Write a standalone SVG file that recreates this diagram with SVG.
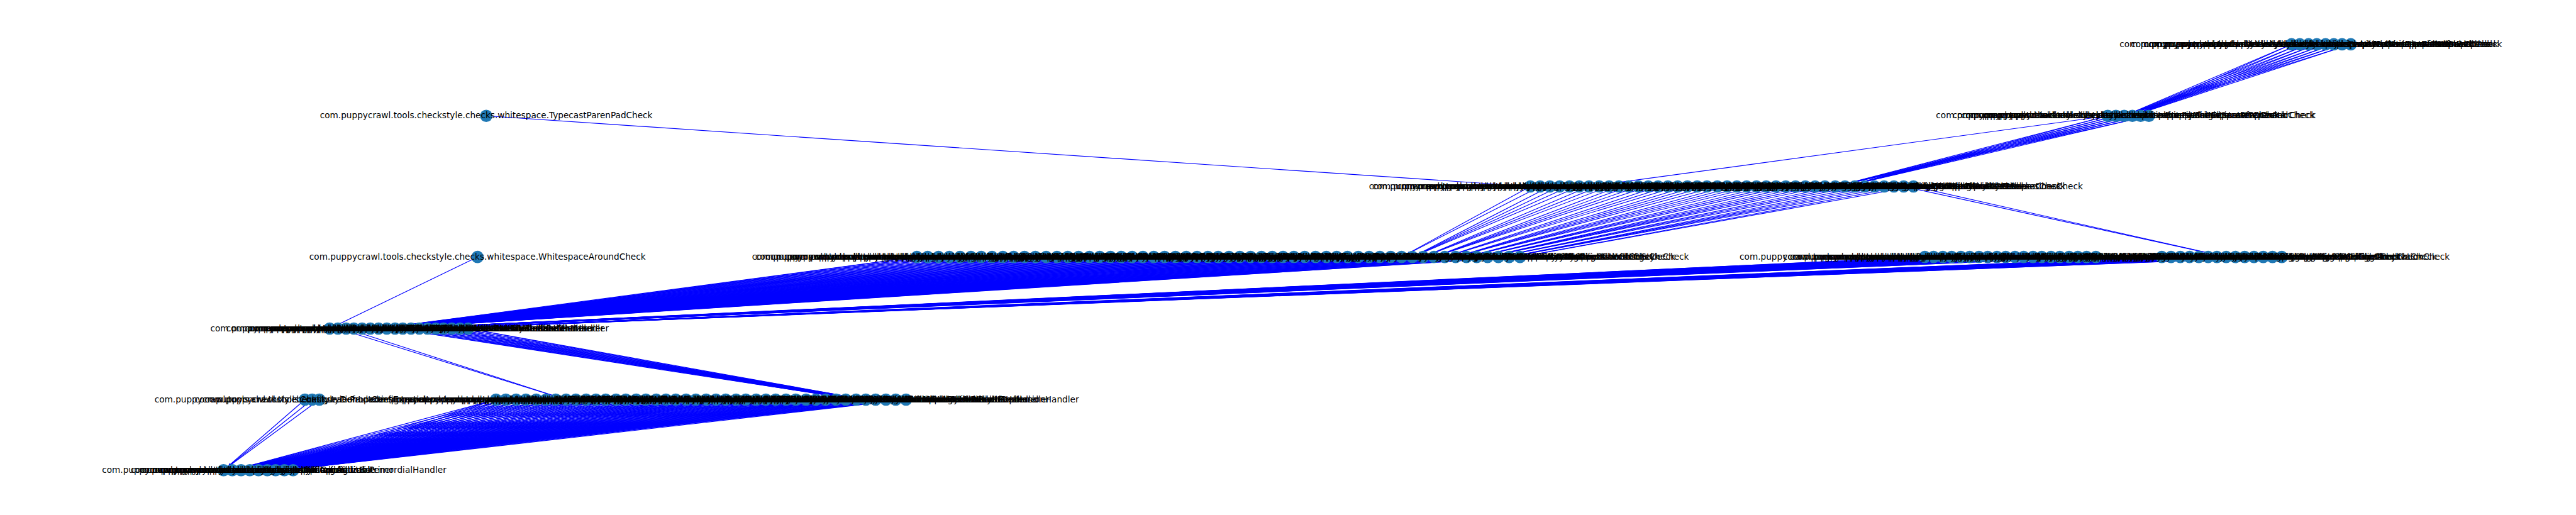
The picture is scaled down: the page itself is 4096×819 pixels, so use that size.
<svg xmlns="http://www.w3.org/2000/svg" width="4096" height="819" viewBox="0 0 4096 819">
<style>
.e path{fill:none;stroke:#0000ff;stroke-width:1.4;marker-end:url(#ah)}
.n circle{fill:#1f78b4}
.l text{font-family:'DejaVu Sans','Liberation Sans',sans-serif;font-size:16.67px;text-anchor:middle;fill:#000}
</style>
<defs>
<marker id="ah" markerUnits="userSpaceOnUse" markerWidth="20" markerHeight="6" refX="17.6" refY="2.8" orient="auto"><path d="M0,0L5.6,2.8L0,5.6z" fill="#0000ff"/></marker>
</defs>
<rect width="4096" height="819" fill="#ffffff"/>
<g transform="scale(0.819)">
<g id="edges" class="e">
<path d="M4449 86L4124 225"/><path d="M4449 86L4140 225"/><path d="M4465 86L4124 225"/><path d="M4465 86L4140 225"/><path d="M4482 86L4124 225"/><path d="M4482 86L4140 225"/><path d="M4498 86L4124 225"/><path d="M4498 86L4140 225"/><path d="M4515 86L4124 225"/><path d="M4515 86L4140 225"/><path d="M4531 86L4124 225"/><path d="M4531 86L4140 225"/><path d="M4547 86L4124 225"/><path d="M4547 86L4140 225"/><path d="M4564 86L4124 225"/><path d="M4564 86L4140 225"/>
<path d="M4092 225L3563 362"/><path d="M4092 225L3582 362"/><path d="M4108 225L3563 362"/><path d="M4108 225L3582 362"/><path d="M4124 225L3563 362"/><path d="M4124 225L3582 362"/><path d="M4140 225L3563 362"/><path d="M4140 225L3582 362"/><path d="M4156 225L3563 362"/><path d="M4156 225L3582 362"/><path d="M4172 225L3563 362"/><path d="M4172 225L3582 362"/>
<path d="M4092 225L3085 362"/><path d="M944 225L2971 362"/>
<path d="M3696 362L4322 499"/><path d="M3715 362L4322 499"/>
<path d="M2971 362L2721 499"/><path d="M2990 362L2721 499"/><path d="M3009 362L2742 499"/><path d="M3028 362L2742 499"/><path d="M3047 362L2742 499"/><path d="M3066 362L2742 499"/><path d="M3085 362L2763 499"/><path d="M3105 362L2763 499"/><path d="M3124 362L2763 499"/><path d="M3143 362L2784 499"/><path d="M3162 362L2784 499"/><path d="M3181 362L2784 499"/><path d="M3200 362L2784 499"/><path d="M3219 362L2805 499"/><path d="M3238 362L2805 499"/><path d="M3257 362L2805 499"/><path d="M3276 362L2826 499"/><path d="M3295 362L2826 499"/><path d="M3314 362L2826 499"/><path d="M3334 362L2826 499"/><path d="M3353 362L2847 499"/><path d="M3372 362L2847 499"/><path d="M3391 362L2847 499"/><path d="M3410 362L2847 499"/><path d="M3429 362L2867 499"/><path d="M3448 362L2867 499"/><path d="M3467 362L2867 499"/><path d="M3486 362L2888 499"/><path d="M3505 362L2888 499"/><path d="M3524 362L2888 499"/><path d="M3543 362L2888 499"/><path d="M3563 362L2909 499"/><path d="M3582 362L2909 499"/><path d="M3601 362L2909 499"/><path d="M3620 362L2930 499"/><path d="M3639 362L2930 499"/><path d="M3658 362L2930 499"/><path d="M3677 362L2930 499"/><path d="M3696 362L2951 499"/><path d="M3715 362L2951 499"/>
<path d="M1780 499L735 638"/><path d="M1780 499L751 638"/><path d="M1801 499L735 638"/><path d="M1801 499L751 638"/><path d="M1822 499L735 638"/><path d="M1822 499L751 638"/><path d="M1843 499L735 638"/><path d="M1843 499L751 638"/><path d="M1864 499L735 638"/><path d="M1864 499L751 638"/><path d="M1885 499L735 638"/><path d="M1885 499L751 638"/><path d="M1905 499L735 638"/><path d="M1905 499L751 638"/><path d="M1926 499L735 638"/><path d="M1926 499L751 638"/><path d="M1947 499L735 638"/><path d="M1947 499L751 638"/><path d="M1968 499L735 638"/><path d="M1968 499L751 638"/><path d="M1989 499L735 638"/><path d="M1989 499L751 638"/><path d="M2010 499L735 638"/><path d="M2010 499L751 638"/><path d="M2031 499L735 638"/><path d="M2031 499L751 638"/><path d="M2052 499L735 638"/><path d="M2052 499L751 638"/><path d="M2073 499L735 638"/><path d="M2073 499L751 638"/><path d="M2094 499L735 638"/><path d="M2094 499L751 638"/><path d="M2115 499L735 638"/><path d="M2115 499L751 638"/><path d="M2135 499L735 638"/><path d="M2135 499L751 638"/><path d="M2156 499L735 638"/><path d="M2156 499L751 638"/><path d="M2177 499L735 638"/><path d="M2177 499L751 638"/><path d="M2198 499L735 638"/><path d="M2198 499L751 638"/><path d="M2219 499L735 638"/><path d="M2219 499L751 638"/><path d="M2240 499L735 638"/><path d="M2240 499L751 638"/><path d="M2261 499L735 638"/><path d="M2261 499L751 638"/><path d="M2282 499L735 638"/><path d="M2282 499L751 638"/><path d="M2303 499L735 638"/><path d="M2303 499L751 638"/><path d="M2324 499L735 638"/><path d="M2324 499L751 638"/><path d="M2345 499L735 638"/><path d="M2345 499L751 638"/><path d="M2365 499L735 638"/><path d="M2365 499L751 638"/><path d="M2386 499L735 638"/><path d="M2386 499L751 638"/><path d="M2407 499L735 638"/><path d="M2407 499L751 638"/><path d="M2428 499L735 638"/><path d="M2428 499L751 638"/><path d="M2449 499L735 638"/><path d="M2449 499L751 638"/><path d="M2470 499L735 638"/><path d="M2470 499L751 638"/><path d="M2491 499L735 638"/><path d="M2491 499L751 638"/><path d="M2512 499L735 638"/><path d="M2512 499L751 638"/><path d="M2533 499L735 638"/><path d="M2533 499L751 638"/><path d="M2554 499L735 638"/><path d="M2554 499L751 638"/><path d="M2575 499L735 638"/><path d="M2575 499L751 638"/><path d="M2595 499L735 638"/><path d="M2595 499L751 638"/><path d="M2616 499L735 638"/><path d="M2616 499L751 638"/><path d="M2637 499L735 638"/><path d="M2637 499L751 638"/><path d="M2658 499L735 638"/><path d="M2658 499L751 638"/><path d="M2679 499L735 638"/><path d="M2679 499L751 638"/><path d="M2700 499L735 638"/><path d="M2700 499L751 638"/><path d="M2721 499L735 638"/><path d="M2721 499L751 638"/><path d="M2742 499L735 638"/><path d="M2742 499L751 638"/><path d="M2763 499L735 638"/><path d="M2763 499L751 638"/><path d="M2784 499L735 638"/><path d="M2784 499L751 638"/><path d="M2805 499L735 638"/><path d="M2805 499L751 638"/><path d="M2826 499L735 638"/><path d="M2826 499L751 638"/><path d="M2847 499L735 638"/><path d="M2847 499L751 638"/><path d="M2867 499L735 638"/><path d="M2867 499L751 638"/><path d="M2888 499L735 638"/><path d="M2888 499L751 638"/><path d="M2909 499L735 638"/><path d="M2909 499L751 638"/><path d="M2930 499L735 638"/><path d="M2930 499L751 638"/><path d="M2951 499L735 638"/><path d="M2951 499L751 638"/>
<path d="M3737 499L767 638"/><path d="M3737 499L782 638"/><path d="M3754 499L767 638"/><path d="M3754 499L782 638"/><path d="M3772 499L767 638"/><path d="M3772 499L782 638"/><path d="M3789 499L767 638"/><path d="M3789 499L782 638"/><path d="M3807 499L767 638"/><path d="M3807 499L782 638"/><path d="M3824 499L767 638"/><path d="M3824 499L782 638"/><path d="M3842 499L767 638"/><path d="M3842 499L782 638"/><path d="M3859 499L767 638"/><path d="M3859 499L782 638"/><path d="M3877 499L767 638"/><path d="M3877 499L782 638"/><path d="M3894 499L767 638"/><path d="M3894 499L782 638"/><path d="M3912 499L767 638"/><path d="M3912 499L782 638"/><path d="M3929 499L767 638"/><path d="M3929 499L782 638"/><path d="M3947 499L767 638"/><path d="M3947 499L782 638"/><path d="M3964 499L767 638"/><path d="M3964 499L782 638"/><path d="M3982 499L767 638"/><path d="M3982 499L782 638"/><path d="M3999 499L767 638"/><path d="M3999 499L782 638"/><path d="M4017 499L767 638"/><path d="M4017 499L782 638"/><path d="M4034 499L767 638"/><path d="M4034 499L782 638"/><path d="M4051 499L767 638"/><path d="M4051 499L782 638"/><path d="M4069 499L767 638"/><path d="M4069 499L782 638"/>
<path d="M4197 499L830 638"/><path d="M4197 499L846 638"/><path d="M4215 499L830 638"/><path d="M4215 499L846 638"/><path d="M4233 499L830 638"/><path d="M4233 499L846 638"/><path d="M4251 499L830 638"/><path d="M4251 499L846 638"/><path d="M4269 499L830 638"/><path d="M4269 499L846 638"/><path d="M4287 499L830 638"/><path d="M4287 499L846 638"/><path d="M4304 499L830 638"/><path d="M4304 499L846 638"/><path d="M4322 499L830 638"/><path d="M4322 499L846 638"/><path d="M4340 499L830 638"/><path d="M4340 499L846 638"/><path d="M4358 499L830 638"/><path d="M4358 499L846 638"/><path d="M4376 499L830 638"/><path d="M4376 499L846 638"/><path d="M4394 499L830 638"/><path d="M4394 499L846 638"/><path d="M4412 499L830 638"/><path d="M4412 499L846 638"/><path d="M4430 499L830 638"/><path d="M4430 499L846 638"/>
<path d="M656 638L1099 776"/><path d="M672 638L1099 776"/>
<path d="M767 638L1662 776"/><path d="M767 638L1681 776"/><path d="M782 638L1662 776"/><path d="M782 638L1681 776"/><path d="M798 638L1662 776"/><path d="M798 638L1681 776"/><path d="M814 638L1662 776"/><path d="M814 638L1681 776"/><path d="M830 638L1662 776"/><path d="M830 638L1681 776"/><path d="M846 638L1662 776"/><path d="M846 638L1681 776"/><path d="M861 638L1662 776"/><path d="M861 638L1681 776"/><path d="M877 638L1662 776"/><path d="M877 638L1681 776"/><path d="M893 638L1662 776"/><path d="M893 638L1681 776"/><path d="M909 638L1662 776"/><path d="M909 638L1681 776"/>
<path d="M963 776L451 913"/><path d="M963 776L502 913"/><path d="M963 776L552 913"/><path d="M982 776L451 913"/><path d="M982 776L502 913"/><path d="M982 776L552 913"/><path d="M1002 776L451 913"/><path d="M1002 776L502 913"/><path d="M1002 776L552 913"/><path d="M1021 776L451 913"/><path d="M1021 776L502 913"/><path d="M1021 776L552 913"/><path d="M1041 776L451 913"/><path d="M1041 776L502 913"/><path d="M1041 776L552 913"/><path d="M1060 776L451 913"/><path d="M1060 776L502 913"/><path d="M1060 776L552 913"/><path d="M1079 776L451 913"/><path d="M1079 776L502 913"/><path d="M1079 776L552 913"/><path d="M1099 776L451 913"/><path d="M1099 776L502 913"/><path d="M1099 776L552 913"/><path d="M1118 776L451 913"/><path d="M1118 776L502 913"/><path d="M1118 776L552 913"/><path d="M1138 776L451 913"/><path d="M1138 776L502 913"/><path d="M1138 776L552 913"/><path d="M1157 776L451 913"/><path d="M1157 776L502 913"/><path d="M1157 776L552 913"/><path d="M1176 776L451 913"/><path d="M1176 776L502 913"/><path d="M1176 776L552 913"/><path d="M1196 776L451 913"/><path d="M1196 776L502 913"/><path d="M1196 776L552 913"/><path d="M1215 776L451 913"/><path d="M1215 776L502 913"/><path d="M1215 776L552 913"/><path d="M1235 776L451 913"/><path d="M1235 776L502 913"/><path d="M1235 776L552 913"/><path d="M1254 776L451 913"/><path d="M1254 776L502 913"/><path d="M1254 776L552 913"/><path d="M1274 776L451 913"/><path d="M1274 776L502 913"/><path d="M1274 776L552 913"/><path d="M1293 776L451 913"/><path d="M1293 776L502 913"/><path d="M1293 776L552 913"/><path d="M1312 776L451 913"/><path d="M1312 776L502 913"/><path d="M1312 776L552 913"/><path d="M1332 776L451 913"/><path d="M1332 776L502 913"/><path d="M1332 776L552 913"/><path d="M1351 776L451 913"/><path d="M1351 776L502 913"/><path d="M1351 776L552 913"/><path d="M1371 776L451 913"/><path d="M1371 776L502 913"/><path d="M1371 776L552 913"/><path d="M1390 776L451 913"/><path d="M1390 776L502 913"/><path d="M1390 776L552 913"/><path d="M1409 776L451 913"/><path d="M1409 776L502 913"/><path d="M1409 776L552 913"/><path d="M1429 776L451 913"/><path d="M1429 776L502 913"/><path d="M1429 776L552 913"/><path d="M1448 776L451 913"/><path d="M1448 776L502 913"/><path d="M1448 776L552 913"/><path d="M1468 776L451 913"/><path d="M1468 776L502 913"/><path d="M1468 776L552 913"/><path d="M1487 776L451 913"/><path d="M1487 776L502 913"/><path d="M1487 776L552 913"/><path d="M1506 776L451 913"/><path d="M1506 776L502 913"/><path d="M1506 776L552 913"/><path d="M1526 776L451 913"/><path d="M1526 776L502 913"/><path d="M1526 776L552 913"/><path d="M1545 776L451 913"/><path d="M1545 776L502 913"/><path d="M1545 776L552 913"/><path d="M1565 776L451 913"/><path d="M1565 776L502 913"/><path d="M1565 776L552 913"/><path d="M1584 776L451 913"/><path d="M1584 776L502 913"/><path d="M1584 776L552 913"/><path d="M1603 776L451 913"/><path d="M1603 776L502 913"/><path d="M1603 776L552 913"/><path d="M1623 776L451 913"/><path d="M1623 776L502 913"/><path d="M1623 776L552 913"/><path d="M1642 776L451 913"/><path d="M1642 776L502 913"/><path d="M1642 776L552 913"/><path d="M1662 776L451 913"/><path d="M1662 776L502 913"/><path d="M1662 776L552 913"/><path d="M1681 776L451 913"/><path d="M1681 776L502 913"/><path d="M1681 776L552 913"/><path d="M1700 776L451 913"/><path d="M1700 776L502 913"/><path d="M1700 776L552 913"/><path d="M1720 776L451 913"/><path d="M1720 776L502 913"/><path d="M1720 776L552 913"/><path d="M1739 776L451 913"/><path d="M1739 776L502 913"/><path d="M1739 776L552 913"/><path d="M1759 776L451 913"/><path d="M1759 776L502 913"/><path d="M1759 776L552 913"/>
<path d="M592 776L434 913"/><path d="M606 776L434 913"/><path d="M620 776L434 913"/>
<path d="M927 499L640 638"/>
</g>
<g id="nodes" class="n">
<g id="n1_0"><circle cx="4449" cy="86" r="12"/></g><g id="n1_1"><circle cx="4465" cy="86" r="12"/></g><g id="n1_2"><circle cx="4482" cy="86" r="12"/></g><g id="n1_3"><circle cx="4498" cy="86" r="12"/></g><g id="n1_4"><circle cx="4515" cy="86" r="12"/></g><g id="n1_5"><circle cx="4531" cy="86" r="12"/></g><g id="n1_6"><circle cx="4547" cy="86" r="12"/></g><g id="n1_7"><circle cx="4564" cy="86" r="12"/></g>
<g id="n2_0"><circle cx="4092" cy="225" r="12"/></g><g id="n2_1"><circle cx="4108" cy="225" r="12"/></g><g id="n2_2"><circle cx="4124" cy="225" r="12"/></g><g id="n2_3"><circle cx="4140" cy="225" r="12"/></g><g id="n2_4"><circle cx="4156" cy="225" r="12"/></g><g id="n2_5"><circle cx="4172" cy="225" r="12"/></g>
<g id="typecast"><circle cx="944" cy="225" r="12"/></g>
<g id="n3_0"><circle cx="2971" cy="362" r="12"/></g><g id="n3_1"><circle cx="2990" cy="362" r="12"/></g><g id="n3_2"><circle cx="3009" cy="362" r="12"/></g><g id="n3_3"><circle cx="3028" cy="362" r="12"/></g><g id="n3_4"><circle cx="3047" cy="362" r="12"/></g><g id="n3_5"><circle cx="3066" cy="362" r="12"/></g><g id="n3_6"><circle cx="3085" cy="362" r="12"/></g><g id="n3_7"><circle cx="3105" cy="362" r="12"/></g><g id="n3_8"><circle cx="3124" cy="362" r="12"/></g><g id="n3_9"><circle cx="3143" cy="362" r="12"/></g><g id="n3_10"><circle cx="3162" cy="362" r="12"/></g><g id="n3_11"><circle cx="3181" cy="362" r="12"/></g><g id="n3_12"><circle cx="3200" cy="362" r="12"/></g><g id="n3_13"><circle cx="3219" cy="362" r="12"/></g><g id="n3_14"><circle cx="3238" cy="362" r="12"/></g><g id="n3_15"><circle cx="3257" cy="362" r="12"/></g><g id="n3_16"><circle cx="3276" cy="362" r="12"/></g><g id="n3_17"><circle cx="3295" cy="362" r="12"/></g><g id="n3_18"><circle cx="3314" cy="362" r="12"/></g><g id="n3_19"><circle cx="3334" cy="362" r="12"/></g><g id="n3_20"><circle cx="3353" cy="362" r="12"/></g><g id="n3_21"><circle cx="3372" cy="362" r="12"/></g><g id="n3_22"><circle cx="3391" cy="362" r="12"/></g><g id="n3_23"><circle cx="3410" cy="362" r="12"/></g><g id="n3_24"><circle cx="3429" cy="362" r="12"/></g><g id="n3_25"><circle cx="3448" cy="362" r="12"/></g><g id="n3_26"><circle cx="3467" cy="362" r="12"/></g><g id="n3_27"><circle cx="3486" cy="362" r="12"/></g><g id="n3_28"><circle cx="3505" cy="362" r="12"/></g><g id="n3_29"><circle cx="3524" cy="362" r="12"/></g><g id="n3_30"><circle cx="3543" cy="362" r="12"/></g><g id="n3_31"><circle cx="3563" cy="362" r="12"/></g><g id="n3_32"><circle cx="3582" cy="362" r="12"/></g><g id="n3_33"><circle cx="3601" cy="362" r="12"/></g><g id="n3_34"><circle cx="3620" cy="362" r="12"/></g><g id="n3_35"><circle cx="3639" cy="362" r="12"/></g><g id="n3_36"><circle cx="3658" cy="362" r="12"/></g><g id="n3_37"><circle cx="3677" cy="362" r="12"/></g><g id="n3_38"><circle cx="3696" cy="362" r="12"/></g><g id="n3_39"><circle cx="3715" cy="362" r="12"/></g>
<g id="whitespacearound"><circle cx="927" cy="499" r="12"/></g>
<g id="n4_0"><circle cx="1780" cy="499" r="12"/></g><g id="n4_1"><circle cx="1801" cy="499" r="12"/></g><g id="n4_2"><circle cx="1822" cy="499" r="12"/></g><g id="n4_3"><circle cx="1843" cy="499" r="12"/></g><g id="n4_4"><circle cx="1864" cy="499" r="12"/></g><g id="n4_5"><circle cx="1885" cy="499" r="12"/></g><g id="n4_6"><circle cx="1905" cy="499" r="12"/></g><g id="n4_7"><circle cx="1926" cy="499" r="12"/></g><g id="n4_8"><circle cx="1947" cy="499" r="12"/></g><g id="n4_9"><circle cx="1968" cy="499" r="12"/></g><g id="n4_10"><circle cx="1989" cy="499" r="12"/></g><g id="n4_11"><circle cx="2010" cy="499" r="12"/></g><g id="n4_12"><circle cx="2031" cy="499" r="12"/></g><g id="n4_13"><circle cx="2052" cy="499" r="12"/></g><g id="n4_14"><circle cx="2073" cy="499" r="12"/></g><g id="n4_15"><circle cx="2094" cy="499" r="12"/></g><g id="n4_16"><circle cx="2115" cy="499" r="12"/></g><g id="n4_17"><circle cx="2135" cy="499" r="12"/></g><g id="n4_18"><circle cx="2156" cy="499" r="12"/></g><g id="n4_19"><circle cx="2177" cy="499" r="12"/></g><g id="n4_20"><circle cx="2198" cy="499" r="12"/></g><g id="n4_21"><circle cx="2219" cy="499" r="12"/></g><g id="n4_22"><circle cx="2240" cy="499" r="12"/></g><g id="n4_23"><circle cx="2261" cy="499" r="12"/></g><g id="n4_24"><circle cx="2282" cy="499" r="12"/></g><g id="n4_25"><circle cx="2303" cy="499" r="12"/></g><g id="n4_26"><circle cx="2324" cy="499" r="12"/></g><g id="n4_27"><circle cx="2345" cy="499" r="12"/></g><g id="n4_28"><circle cx="2365" cy="499" r="12"/></g><g id="n4_29"><circle cx="2386" cy="499" r="12"/></g><g id="n4_30"><circle cx="2407" cy="499" r="12"/></g><g id="n4_31"><circle cx="2428" cy="499" r="12"/></g><g id="n4_32"><circle cx="2449" cy="499" r="12"/></g><g id="n4_33"><circle cx="2470" cy="499" r="12"/></g><g id="n4_34"><circle cx="2491" cy="499" r="12"/></g><g id="n4_35"><circle cx="2512" cy="499" r="12"/></g><g id="n4_36"><circle cx="2533" cy="499" r="12"/></g><g id="n4_37"><circle cx="2554" cy="499" r="12"/></g><g id="n4_38"><circle cx="2575" cy="499" r="12"/></g><g id="n4_39"><circle cx="2595" cy="499" r="12"/></g><g id="n4_40"><circle cx="2616" cy="499" r="12"/></g><g id="n4_41"><circle cx="2637" cy="499" r="12"/></g><g id="n4_42"><circle cx="2658" cy="499" r="12"/></g><g id="n4_43"><circle cx="2679" cy="499" r="12"/></g><g id="n4_44"><circle cx="2700" cy="499" r="12"/></g><g id="n4_45"><circle cx="2721" cy="499" r="12"/></g><g id="n4_46"><circle cx="2742" cy="499" r="12"/></g><g id="n4_47"><circle cx="2763" cy="499" r="12"/></g><g id="n4_48"><circle cx="2784" cy="499" r="12"/></g><g id="n4_49"><circle cx="2805" cy="499" r="12"/></g><g id="n4_50"><circle cx="2826" cy="499" r="12"/></g><g id="n4_51"><circle cx="2847" cy="499" r="12"/></g><g id="n4_52"><circle cx="2867" cy="499" r="12"/></g><g id="n4_53"><circle cx="2888" cy="499" r="12"/></g><g id="n4_54"><circle cx="2909" cy="499" r="12"/></g><g id="n4_55"><circle cx="2930" cy="499" r="12"/></g><g id="n4_56"><circle cx="2951" cy="499" r="12"/></g>
<g id="n4a_0"><circle cx="3737" cy="499" r="12"/></g><g id="n4a_1"><circle cx="3754" cy="499" r="12"/></g><g id="n4a_2"><circle cx="3772" cy="499" r="12"/></g><g id="n4a_3"><circle cx="3789" cy="499" r="12"/></g><g id="n4a_4"><circle cx="3807" cy="499" r="12"/></g><g id="n4a_5"><circle cx="3824" cy="499" r="12"/></g><g id="n4a_6"><circle cx="3842" cy="499" r="12"/></g><g id="n4a_7"><circle cx="3859" cy="499" r="12"/></g><g id="n4a_8"><circle cx="3877" cy="499" r="12"/></g><g id="n4a_9"><circle cx="3894" cy="499" r="12"/></g><g id="n4a_10"><circle cx="3912" cy="499" r="12"/></g><g id="n4a_11"><circle cx="3929" cy="499" r="12"/></g><g id="n4a_12"><circle cx="3947" cy="499" r="12"/></g><g id="n4a_13"><circle cx="3964" cy="499" r="12"/></g><g id="n4a_14"><circle cx="3982" cy="499" r="12"/></g><g id="n4a_15"><circle cx="3999" cy="499" r="12"/></g><g id="n4a_16"><circle cx="4017" cy="499" r="12"/></g><g id="n4a_17"><circle cx="4034" cy="499" r="12"/></g><g id="n4a_18"><circle cx="4051" cy="499" r="12"/></g><g id="n4a_19"><circle cx="4069" cy="499" r="12"/></g>
<g id="n4b_0"><circle cx="4197" cy="499" r="12"/></g><g id="n4b_1"><circle cx="4215" cy="499" r="12"/></g><g id="n4b_2"><circle cx="4233" cy="499" r="12"/></g><g id="n4b_3"><circle cx="4251" cy="499" r="12"/></g><g id="n4b_4"><circle cx="4269" cy="499" r="12"/></g><g id="n4b_5"><circle cx="4287" cy="499" r="12"/></g><g id="n4b_6"><circle cx="4304" cy="499" r="12"/></g><g id="n4b_7"><circle cx="4322" cy="499" r="12"/></g><g id="n4b_8"><circle cx="4340" cy="499" r="12"/></g><g id="n4b_9"><circle cx="4358" cy="499" r="12"/></g><g id="n4b_10"><circle cx="4376" cy="499" r="12"/></g><g id="n4b_11"><circle cx="4394" cy="499" r="12"/></g><g id="n4b_12"><circle cx="4412" cy="499" r="12"/></g><g id="n4b_13"><circle cx="4430" cy="499" r="12"/></g>
<g id="n5_0"><circle cx="640" cy="638" r="12"/></g><g id="n5_1"><circle cx="656" cy="638" r="12"/></g><g id="n5_2"><circle cx="672" cy="638" r="12"/></g><g id="n5_3"><circle cx="687" cy="638" r="12"/></g><g id="n5_4"><circle cx="703" cy="638" r="12"/></g><g id="n5_5"><circle cx="719" cy="638" r="12"/></g><g id="n5_6"><circle cx="735" cy="638" r="12"/></g><g id="n5_7"><circle cx="751" cy="638" r="12"/></g><g id="n5_8"><circle cx="767" cy="638" r="12"/></g><g id="n5_9"><circle cx="782" cy="638" r="12"/></g><g id="n5_10"><circle cx="798" cy="638" r="12"/></g><g id="n5_11"><circle cx="814" cy="638" r="12"/></g><g id="n5_12"><circle cx="830" cy="638" r="12"/></g><g id="n5_13"><circle cx="846" cy="638" r="12"/></g><g id="n5_14"><circle cx="861" cy="638" r="12"/></g><g id="n5_15"><circle cx="877" cy="638" r="12"/></g><g id="n5_16"><circle cx="893" cy="638" r="12"/></g><g id="n5_17"><circle cx="909" cy="638" r="12"/></g>
<g id="n6s_0"><circle cx="592" cy="776" r="12"/></g><g id="n6s_1"><circle cx="606" cy="776" r="12"/></g><g id="n6s_2"><circle cx="620" cy="776" r="12"/></g>
<g id="n6_0"><circle cx="963" cy="776" r="12"/></g><g id="n6_1"><circle cx="982" cy="776" r="12"/></g><g id="n6_2"><circle cx="1002" cy="776" r="12"/></g><g id="n6_3"><circle cx="1021" cy="776" r="12"/></g><g id="n6_4"><circle cx="1041" cy="776" r="12"/></g><g id="n6_5"><circle cx="1060" cy="776" r="12"/></g><g id="n6_6"><circle cx="1079" cy="776" r="12"/></g><g id="n6_7"><circle cx="1099" cy="776" r="12"/></g><g id="n6_8"><circle cx="1118" cy="776" r="12"/></g><g id="n6_9"><circle cx="1138" cy="776" r="12"/></g><g id="n6_10"><circle cx="1157" cy="776" r="12"/></g><g id="n6_11"><circle cx="1176" cy="776" r="12"/></g><g id="n6_12"><circle cx="1196" cy="776" r="12"/></g><g id="n6_13"><circle cx="1215" cy="776" r="12"/></g><g id="n6_14"><circle cx="1235" cy="776" r="12"/></g><g id="n6_15"><circle cx="1254" cy="776" r="12"/></g><g id="n6_16"><circle cx="1274" cy="776" r="12"/></g><g id="n6_17"><circle cx="1293" cy="776" r="12"/></g><g id="n6_18"><circle cx="1312" cy="776" r="12"/></g><g id="n6_19"><circle cx="1332" cy="776" r="12"/></g><g id="n6_20"><circle cx="1351" cy="776" r="12"/></g><g id="n6_21"><circle cx="1371" cy="776" r="12"/></g><g id="n6_22"><circle cx="1390" cy="776" r="12"/></g><g id="n6_23"><circle cx="1409" cy="776" r="12"/></g><g id="n6_24"><circle cx="1429" cy="776" r="12"/></g><g id="n6_25"><circle cx="1448" cy="776" r="12"/></g><g id="n6_26"><circle cx="1468" cy="776" r="12"/></g><g id="n6_27"><circle cx="1487" cy="776" r="12"/></g><g id="n6_28"><circle cx="1506" cy="776" r="12"/></g><g id="n6_29"><circle cx="1526" cy="776" r="12"/></g><g id="n6_30"><circle cx="1545" cy="776" r="12"/></g><g id="n6_31"><circle cx="1565" cy="776" r="12"/></g><g id="n6_32"><circle cx="1584" cy="776" r="12"/></g><g id="n6_33"><circle cx="1603" cy="776" r="12"/></g><g id="n6_34"><circle cx="1623" cy="776" r="12"/></g><g id="n6_35"><circle cx="1642" cy="776" r="12"/></g><g id="n6_36"><circle cx="1662" cy="776" r="12"/></g><g id="n6_37"><circle cx="1681" cy="776" r="12"/></g><g id="n6_38"><circle cx="1700" cy="776" r="12"/></g><g id="n6_39"><circle cx="1720" cy="776" r="12"/></g><g id="n6_40"><circle cx="1739" cy="776" r="12"/></g><g id="n6_41"><circle cx="1759" cy="776" r="12"/></g>
<g id="n7_0"><circle cx="434" cy="913" r="12"/></g><g id="n7_1"><circle cx="451" cy="913" r="12"/></g><g id="n7_2"><circle cx="468" cy="913" r="12"/></g><g id="n7_3"><circle cx="485" cy="913" r="12"/></g><g id="n7_4"><circle cx="502" cy="913" r="12"/></g><g id="n7_5"><circle cx="519" cy="913" r="12"/></g><g id="n7_6"><circle cx="535" cy="913" r="12"/></g><g id="n7_7"><circle cx="552" cy="913" r="12"/></g><g id="n7_8"><circle cx="569" cy="913" r="12"/></g>
</g>
<g id="labels" class="l">
<text x="4449" y="91">com.puppycrawl.tools.checkstyle.checks.whitespace.EmptyForIteratorPadCheck</text>
<text x="4465" y="91">com.puppycrawl.tools.checkstyle.checks.whitespace.NoWhitespaceAfterCheck</text>
<text x="4482" y="91">com.puppycrawl.tools.checkstyle.checks.whitespace.MethodParamPadCheck</text>
<text x="4498" y="91">com.puppycrawl.tools.checkstyle.checks.whitespace.NoWhitespaceBeforeCheck</text>
<text x="4515" y="91">com.puppycrawl.tools.checkstyle.checks.whitespace.GenericWhitespaceCheck</text>
<text x="4531" y="91">com.puppycrawl.tools.checkstyle.checks.whitespace.OperatorWrapCheck</text>
<text x="4547" y="91">com.puppycrawl.tools.checkstyle.checks.whitespace.SeparatorWrapCheck</text>
<text x="4564" y="91">com.puppycrawl.tools.checkstyle.checks.whitespace.ParenPadCheck</text>
<text x="4092" y="230">com.puppycrawl.tools.checkstyle.checks.whitespace.EmptyLineSeparatorCheck</text>
<text x="4108" y="230">com.puppycrawl.tools.checkstyle.checks.whitespace.FileTabCharacterCheck</text>
<text x="4124" y="230">com.puppycrawl.tools.checkstyle.checks.whitespace.WhitespaceAfterCheck</text>
<text x="4140" y="230">com.puppycrawl.tools.checkstyle.checks.whitespace.NoLineWrapCheck</text>
<text x="4156" y="230">com.puppycrawl.tools.checkstyle.checks.whitespace.SingleSpaceSeparatorCheck</text>
<text x="4172" y="230">com.puppycrawl.tools.checkstyle.checks.whitespace.AbstractParenPadCheck</text>
<text x="944" y="230">com.puppycrawl.tools.checkstyle.checks.whitespace.TypecastParenPadCheck</text>
<text x="2971" y="367">com.puppycrawl.tools.checkstyle.checks.coding.ArrayTrailingCommaCheck</text>
<text x="2990" y="367">com.puppycrawl.tools.checkstyle.checks.coding.AvoidInlineConditionalsCheck</text>
<text x="3009" y="367">com.puppycrawl.tools.checkstyle.checks.coding.CovariantEqualsCheck</text>
<text x="3028" y="367">com.puppycrawl.tools.checkstyle.checks.coding.DeclarationOrderCheck</text>
<text x="3047" y="367">com.puppycrawl.tools.checkstyle.checks.coding.DefaultComesLastCheck</text>
<text x="3066" y="367">com.puppycrawl.tools.checkstyle.checks.coding.EmptyStatementCheck</text>
<text x="3085" y="367">com.puppycrawl.tools.checkstyle.checks.coding.EqualsAvoidNullCheck</text>
<text x="3105" y="367">com.puppycrawl.tools.checkstyle.checks.coding.EqualsHashCodeCheck</text>
<text x="3124" y="367">com.puppycrawl.tools.checkstyle.checks.coding.ExplicitInitializationCheck</text>
<text x="3143" y="367">com.puppycrawl.tools.checkstyle.checks.coding.FallThroughCheck</text>
<text x="3162" y="367">com.puppycrawl.tools.checkstyle.checks.coding.FinalLocalVariableCheck</text>
<text x="3181" y="367">com.puppycrawl.tools.checkstyle.checks.coding.HiddenFieldCheck</text>
<text x="3200" y="367">com.puppycrawl.tools.checkstyle.checks.coding.IllegalCatchCheck</text>
<text x="3219" y="367">com.puppycrawl.tools.checkstyle.checks.coding.IllegalInstantiationCheck</text>
<text x="3238" y="367">com.puppycrawl.tools.checkstyle.checks.coding.IllegalThrowsCheck</text>
<text x="3257" y="367">com.puppycrawl.tools.checkstyle.checks.coding.IllegalTokenCheck</text>
<text x="3276" y="367">com.puppycrawl.tools.checkstyle.checks.coding.IllegalTokenTextCheck</text>
<text x="3295" y="367">com.puppycrawl.tools.checkstyle.checks.coding.IllegalTypeCheck</text>
<text x="3314" y="367">com.puppycrawl.tools.checkstyle.checks.coding.InnerAssignmentCheck</text>
<text x="3334" y="367">com.puppycrawl.tools.checkstyle.checks.coding.MagicNumberCheck</text>
<text x="3353" y="367">com.puppycrawl.tools.checkstyle.checks.coding.MissingSwitchDefaultCheck</text>
<text x="3372" y="367">com.puppycrawl.tools.checkstyle.checks.coding.ModifiedControlVariableCheck</text>
<text x="3391" y="367">com.puppycrawl.tools.checkstyle.checks.coding.MultipleStringLiteralsCheck</text>
<text x="3410" y="367">com.puppycrawl.tools.checkstyle.checks.coding.NestedForDepthCheck</text>
<text x="3429" y="367">com.puppycrawl.tools.checkstyle.checks.coding.NestedIfDepthCheck</text>
<text x="3448" y="367">com.puppycrawl.tools.checkstyle.checks.coding.NestedTryDepthCheck</text>
<text x="3467" y="367">com.puppycrawl.tools.checkstyle.checks.coding.NoCloneCheck</text>
<text x="3486" y="367">com.puppycrawl.tools.checkstyle.checks.coding.NoFinalizerCheck</text>
<text x="3505" y="367">com.puppycrawl.tools.checkstyle.checks.coding.OneStatementPerLineCheck</text>
<text x="3524" y="367">com.puppycrawl.tools.checkstyle.checks.coding.PackageDeclarationCheck</text>
<text x="3543" y="367">com.puppycrawl.tools.checkstyle.checks.coding.ParameterAssignmentCheck</text>
<text x="3563" y="367">com.puppycrawl.tools.checkstyle.checks.coding.RequireThisCheck</text>
<text x="3582" y="367">com.puppycrawl.tools.checkstyle.checks.coding.ReturnCountCheck</text>
<text x="3601" y="367">com.puppycrawl.tools.checkstyle.checks.coding.SimplifyBooleanReturnCheck</text>
<text x="3620" y="367">com.puppycrawl.tools.checkstyle.checks.coding.StringLiteralEqualityCheck</text>
<text x="3639" y="367">com.puppycrawl.tools.checkstyle.checks.coding.SuperCloneCheck</text>
<text x="3658" y="367">com.puppycrawl.tools.checkstyle.checks.coding.SuperFinalizeCheck</text>
<text x="3677" y="367">com.puppycrawl.tools.checkstyle.checks.coding.UnnecessaryParenthesesCheck</text>
<text x="3696" y="367">com.puppycrawl.tools.checkstyle.checks.coding.MultipleVariableDeclarationsCheck</text>
<text x="3715" y="367">com.puppycrawl.tools.checkstyle.checks.coding.AbstractSuperCheck</text>
<text x="927" y="504">com.puppycrawl.tools.checkstyle.checks.whitespace.WhitespaceAroundCheck</text>
<text x="1780" y="504">com.puppycrawl.tools.checkstyle.checks.naming.AbstractClassNameCheck</text>
<text x="1801" y="504">com.puppycrawl.tools.checkstyle.checks.naming.ClassTypeParameterNameCheck</text>
<text x="1822" y="504">com.puppycrawl.tools.checkstyle.checks.naming.ConstantNameCheck</text>
<text x="1843" y="504">com.puppycrawl.tools.checkstyle.checks.naming.InterfaceTypeParameterNameCheck</text>
<text x="1864" y="504">com.puppycrawl.tools.checkstyle.checks.naming.LocalFinalVariableNameCheck</text>
<text x="1885" y="504">com.puppycrawl.tools.checkstyle.checks.naming.LocalVariableNameCheck</text>
<text x="1905" y="504">com.puppycrawl.tools.checkstyle.checks.naming.MemberNameCheck</text>
<text x="1926" y="504">com.puppycrawl.tools.checkstyle.checks.naming.MethodNameCheck</text>
<text x="1947" y="504">com.puppycrawl.tools.checkstyle.checks.naming.MethodTypeParameterNameCheck</text>
<text x="1968" y="504">com.puppycrawl.tools.checkstyle.checks.naming.PackageNameCheck</text>
<text x="1989" y="504">com.puppycrawl.tools.checkstyle.checks.naming.ParameterNameCheck</text>
<text x="2010" y="504">com.puppycrawl.tools.checkstyle.checks.naming.StaticVariableNameCheck</text>
<text x="2031" y="504">com.puppycrawl.tools.checkstyle.checks.naming.TypeNameCheck</text>
<text x="2052" y="504">com.puppycrawl.tools.checkstyle.checks.naming.CatchParameterNameCheck</text>
<text x="2073" y="504">com.puppycrawl.tools.checkstyle.checks.naming.AbbreviationAsWordInNameCheck</text>
<text x="2094" y="504">com.puppycrawl.tools.checkstyle.checks.blocks.AvoidNestedBlocksCheck</text>
<text x="2115" y="504">com.puppycrawl.tools.checkstyle.checks.blocks.EmptyBlockCheck</text>
<text x="2135" y="504">com.puppycrawl.tools.checkstyle.checks.blocks.EmptyCatchBlockCheck</text>
<text x="2156" y="504">com.puppycrawl.tools.checkstyle.checks.blocks.LeftCurlyCheck</text>
<text x="2177" y="504">com.puppycrawl.tools.checkstyle.checks.blocks.NeedBracesCheck</text>
<text x="2198" y="504">com.puppycrawl.tools.checkstyle.checks.blocks.RightCurlyCheck</text>
<text x="2219" y="504">com.puppycrawl.tools.checkstyle.checks.design.DesignForExtensionCheck</text>
<text x="2240" y="504">com.puppycrawl.tools.checkstyle.checks.design.FinalClassCheck</text>
<text x="2261" y="504">com.puppycrawl.tools.checkstyle.checks.design.HideUtilityClassConstructorCheck</text>
<text x="2282" y="504">com.puppycrawl.tools.checkstyle.checks.design.InnerTypeLastCheck</text>
<text x="2303" y="504">com.puppycrawl.tools.checkstyle.checks.design.InterfaceIsTypeCheck</text>
<text x="2324" y="504">com.puppycrawl.tools.checkstyle.checks.design.MutableExceptionCheck</text>
<text x="2345" y="504">com.puppycrawl.tools.checkstyle.checks.design.OneTopLevelClassCheck</text>
<text x="2365" y="504">com.puppycrawl.tools.checkstyle.checks.design.ThrowsCountCheck</text>
<text x="2386" y="504">com.puppycrawl.tools.checkstyle.checks.design.VisibilityModifierCheck</text>
<text x="2407" y="504">com.puppycrawl.tools.checkstyle.checks.imports.AvoidStarImportCheck</text>
<text x="2428" y="504">com.puppycrawl.tools.checkstyle.checks.imports.AvoidStaticImportCheck</text>
<text x="2449" y="504">com.puppycrawl.tools.checkstyle.checks.imports.CustomImportOrderCheck</text>
<text x="2470" y="504">com.puppycrawl.tools.checkstyle.checks.imports.IllegalImportCheck</text>
<text x="2491" y="504">com.puppycrawl.tools.checkstyle.checks.imports.ImportControlCheck</text>
<text x="2512" y="504">com.puppycrawl.tools.checkstyle.checks.imports.ImportOrderCheck</text>
<text x="2533" y="504">com.puppycrawl.tools.checkstyle.checks.imports.RedundantImportCheck</text>
<text x="2554" y="504">com.puppycrawl.tools.checkstyle.checks.imports.UnusedImportsCheck</text>
<text x="2575" y="504">com.puppycrawl.tools.checkstyle.checks.sizes.AnonInnerLengthCheck</text>
<text x="2595" y="504">com.puppycrawl.tools.checkstyle.checks.sizes.ExecutableStatementCountCheck</text>
<text x="2616" y="504">com.puppycrawl.tools.checkstyle.checks.sizes.LineLengthCheck</text>
<text x="2637" y="504">com.puppycrawl.tools.checkstyle.checks.sizes.MethodCountCheck</text>
<text x="2658" y="504">com.puppycrawl.tools.checkstyle.checks.sizes.MethodLengthCheck</text>
<text x="2679" y="504">com.puppycrawl.tools.checkstyle.checks.sizes.OuterTypeNumberCheck</text>
<text x="2700" y="504">com.puppycrawl.tools.checkstyle.checks.sizes.ParameterNumberCheck</text>
<text x="2721" y="504">com.puppycrawl.tools.checkstyle.checks.metrics.BooleanExpressionComplexityCheck</text>
<text x="2742" y="504">com.puppycrawl.tools.checkstyle.checks.metrics.ClassFanOutComplexityCheck</text>
<text x="2763" y="504">com.puppycrawl.tools.checkstyle.checks.metrics.CyclomaticComplexityCheck</text>
<text x="2784" y="504">com.puppycrawl.tools.checkstyle.checks.metrics.JavaNCSSCheck</text>
<text x="2805" y="504">com.puppycrawl.tools.checkstyle.checks.metrics.NPathComplexityCheck</text>
<text x="2826" y="504">com.puppycrawl.tools.checkstyle.checks.modifier.ModifierOrderCheck</text>
<text x="2847" y="504">com.puppycrawl.tools.checkstyle.checks.modifier.RedundantModifierCheck</text>
<text x="2867" y="504">com.puppycrawl.tools.checkstyle.checks.annotation.AnnotationLocationCheck</text>
<text x="2888" y="504">com.puppycrawl.tools.checkstyle.checks.annotation.MissingDeprecatedCheck</text>
<text x="2909" y="504">com.puppycrawl.tools.checkstyle.checks.annotation.MissingOverrideCheck</text>
<text x="2930" y="504">com.puppycrawl.tools.checkstyle.checks.annotation.SuppressWarningsCheck</text>
<text x="2951" y="504">com.puppycrawl.tools.checkstyle.checks.annotation.AnnotationUseStyleCheck</text>
<text x="3737" y="504">com.puppycrawl.tools.checkstyle.checks.javadoc.NonEmptyAtclauseDescriptionCheck</text>
<text x="3754" y="504">com.puppycrawl.tools.checkstyle.checks.javadoc.AtclauseOrderCheck</text>
<text x="3772" y="504">com.puppycrawl.tools.checkstyle.checks.javadoc.JavadocMethodCheck</text>
<text x="3789" y="504">com.puppycrawl.tools.checkstyle.checks.javadoc.JavadocParagraphCheck</text>
<text x="3807" y="504">com.puppycrawl.tools.checkstyle.checks.javadoc.JavadocStyleCheck</text>
<text x="3824" y="504">com.puppycrawl.tools.checkstyle.checks.javadoc.JavadocTypeCheck</text>
<text x="3842" y="504">com.puppycrawl.tools.checkstyle.checks.javadoc.JavadocVariableCheck</text>
<text x="3859" y="504">com.puppycrawl.tools.checkstyle.checks.javadoc.SingleLineJavadocCheck</text>
<text x="3877" y="504">com.puppycrawl.tools.checkstyle.checks.javadoc.SummaryJavadocCheck</text>
<text x="3894" y="504">com.puppycrawl.tools.checkstyle.checks.javadoc.WriteTagCheck</text>
<text x="3912" y="504">com.puppycrawl.tools.checkstyle.checks.javadoc.JavadocPackageCheck</text>
<text x="3929" y="504">com.puppycrawl.tools.checkstyle.checks.javadoc.AbstractJavadocCheck</text>
<text x="3947" y="504">com.puppycrawl.tools.checkstyle.checks.javadoc.AbstractTypeAwareCheck</text>
<text x="3964" y="504">com.puppycrawl.tools.checkstyle.checks.ArrayTypeStyleCheck</text>
<text x="3982" y="504">com.puppycrawl.tools.checkstyle.checks.AvoidEscapedUnicodeCharactersCheck</text>
<text x="3999" y="504">com.puppycrawl.tools.checkstyle.checks.DescendantTokenCheck</text>
<text x="4017" y="504">com.puppycrawl.tools.checkstyle.checks.FinalParametersCheck</text>
<text x="4034" y="504">com.puppycrawl.tools.checkstyle.checks.OuterTypeFilenameCheck</text>
<text x="4051" y="504">com.puppycrawl.tools.checkstyle.checks.TodoCommentCheck</text>
<text x="4069" y="504">com.puppycrawl.tools.checkstyle.checks.TrailingCommentCheck</text>
<text x="4197" y="504">com.puppycrawl.tools.checkstyle.checks.UncommentedMainCheck</text>
<text x="4215" y="504">com.puppycrawl.tools.checkstyle.checks.UpperEllCheck</text>
<text x="4233" y="504">com.puppycrawl.tools.checkstyle.checks.NewlineAtEndOfFileCheck</text>
<text x="4251" y="504">com.puppycrawl.tools.checkstyle.checks.TranslationCheck</text>
<text x="4269" y="504">com.puppycrawl.tools.checkstyle.checks.UniquePropertiesCheck</text>
<text x="4287" y="504">com.puppycrawl.tools.checkstyle.checks.sizes.FileLengthCheck</text>
<text x="4304" y="504">com.puppycrawl.tools.checkstyle.checks.metrics.ClassDataAbstractionCouplingCheck</text>
<text x="4322" y="504">com.puppycrawl.tools.checkstyle.checks.header.HeaderCheck</text>
<text x="4340" y="504">com.puppycrawl.tools.checkstyle.checks.header.RegexpHeaderCheck</text>
<text x="4358" y="504">com.puppycrawl.tools.checkstyle.checks.regexp.RegexpSinglelineCheck</text>
<text x="4376" y="504">com.puppycrawl.tools.checkstyle.checks.regexp.RegexpMultilineCheck</text>
<text x="4394" y="504">com.puppycrawl.tools.checkstyle.checks.regexp.RegexpOnFilenameCheck</text>
<text x="4412" y="504">com.puppycrawl.tools.checkstyle.checks.regexp.RegexpSinglelineJavaCheck</text>
<text x="4430" y="504">com.puppycrawl.tools.checkstyle.checks.annotation.PackageAnnotationCheck</text>
<text x="640" y="643">com.puppycrawl.tools.checkstyle.api.LocalizedMessage</text>
<text x="656" y="643">com.puppycrawl.tools.checkstyle.api.AbstractCheck</text>
<text x="672" y="643">com.puppycrawl.tools.checkstyle.api.DetailAST</text>
<text x="687" y="643">com.puppycrawl.tools.checkstyle.api.TokenTypes</text>
<text x="703" y="643">com.puppycrawl.tools.checkstyle.utils.CommonUtils</text>
<text x="719" y="643">com.puppycrawl.tools.checkstyle.utils.TokenUtils</text>
<text x="735" y="643">com.puppycrawl.tools.checkstyle.utils.CheckUtils</text>
<text x="751" y="643">com.puppycrawl.tools.checkstyle.utils.ScopeUtils</text>
<text x="767" y="643">com.puppycrawl.tools.checkstyle.checks.indentation.IfHandler</text>
<text x="782" y="643">com.puppycrawl.tools.checkstyle.checks.indentation.ForHandler</text>
<text x="798" y="643">com.puppycrawl.tools.checkstyle.checks.indentation.NewHandler</text>
<text x="814" y="643">com.puppycrawl.tools.checkstyle.checks.indentation.TryHandler</text>
<text x="830" y="643">com.puppycrawl.tools.checkstyle.checks.indentation.CaseHandler</text>
<text x="846" y="643">com.puppycrawl.tools.checkstyle.checks.indentation.ElseHandler</text>
<text x="861" y="643">com.puppycrawl.tools.checkstyle.checks.indentation.IndexHandler</text>
<text x="877" y="643">com.puppycrawl.tools.checkstyle.checks.indentation.LabelHandler</text>
<text x="893" y="643">com.puppycrawl.tools.checkstyle.checks.indentation.CatchHandler</text>
<text x="909" y="643">com.puppycrawl.tools.checkstyle.checks.indentation.SlistHandler</text>
<text x="592" y="781">com.puppycrawl.tools.checkstyle.ConfigurationLoader$InternalLoader</text>
<text x="606" y="781">com.puppycrawl.tools.checkstyle.DefaultConfiguration</text>
<text x="620" y="781">com.puppycrawl.tools.checkstyle.PropertiesExpander</text>
<text x="963" y="781">com.puppycrawl.tools.checkstyle.api.AbstractFileSetCheck</text>
<text x="982" y="781">com.puppycrawl.tools.checkstyle.api.AutomaticBean</text>
<text x="1002" y="781">com.puppycrawl.tools.checkstyle.api.FileContents</text>
<text x="1021" y="781">com.puppycrawl.tools.checkstyle.api.FileText</text>
<text x="1041" y="781">com.puppycrawl.tools.checkstyle.api.Scope</text>
<text x="1060" y="781">com.puppycrawl.tools.checkstyle.api.FullIdent</text>
<text x="1079" y="781">com.puppycrawl.tools.checkstyle.api.TextBlock</text>
<text x="1099" y="781">com.puppycrawl.tools.checkstyle.api.CheckstyleException</text>
<text x="1118" y="781">com.puppycrawl.tools.checkstyle.api.SeverityLevel</text>
<text x="1138" y="781">com.puppycrawl.tools.checkstyle.api.MessageDispatcher</text>
<text x="1157" y="781">com.puppycrawl.tools.checkstyle.api.LineColumn</text>
<text x="1176" y="781">com.puppycrawl.tools.checkstyle.utils.AnnotationUtility</text>
<text x="1196" y="781">com.puppycrawl.tools.checkstyle.utils.JavadocUtils</text>
<text x="1215" y="781">com.puppycrawl.tools.checkstyle.utils.BlockCommentPosition</text>
<text x="1235" y="781">com.puppycrawl.tools.checkstyle.checks.indentation.IndentLevel</text>
<text x="1254" y="781">com.puppycrawl.tools.checkstyle.checks.indentation.LineSet</text>
<text x="1274" y="781">com.puppycrawl.tools.checkstyle.checks.indentation.DetailAstSet</text>
<text x="1293" y="781">com.puppycrawl.tools.checkstyle.checks.indentation.HandlerFactory</text>
<text x="1312" y="781">com.puppycrawl.tools.checkstyle.checks.indentation.IndentationCheck</text>
<text x="1332" y="781">com.puppycrawl.tools.checkstyle.checks.indentation.CommentsIndentationCheck</text>
<text x="1351" y="781">com.puppycrawl.tools.checkstyle.checks.indentation.DoWhileHandler</text>
<text x="1371" y="781">com.puppycrawl.tools.checkstyle.checks.indentation.FinallyHandler</text>
<text x="1390" y="781">com.puppycrawl.tools.checkstyle.checks.indentation.ImportHandler</text>
<text x="1409" y="781">com.puppycrawl.tools.checkstyle.checks.indentation.LambdaHandler</text>
<text x="1429" y="781">com.puppycrawl.tools.checkstyle.checks.indentation.WhileHandler</text>
<text x="1448" y="781">com.puppycrawl.tools.checkstyle.checks.indentation.SwitchHandler</text>
<text x="1468" y="781">com.puppycrawl.tools.checkstyle.checks.indentation.MemberDefHandler</text>
<text x="1487" y="781">com.puppycrawl.tools.checkstyle.checks.indentation.MethodCallHandler</text>
<text x="1506" y="781">com.puppycrawl.tools.checkstyle.checks.indentation.MethodDefHandler</text>
<text x="1526" y="781">com.puppycrawl.tools.checkstyle.checks.indentation.ObjectBlockHandler</text>
<text x="1545" y="781">com.puppycrawl.tools.checkstyle.checks.indentation.PackageDefHandler</text>
<text x="1565" y="781">com.puppycrawl.tools.checkstyle.checks.indentation.StaticInitHandler</text>
<text x="1584" y="781">com.puppycrawl.tools.checkstyle.checks.indentation.SynchronizedHandler</text>
<text x="1603" y="781">com.puppycrawl.tools.checkstyle.checks.indentation.LineWrappingHandler</text>
<text x="1623" y="781">com.puppycrawl.tools.checkstyle.checks.indentation.BlockParentHandler</text>
<text x="1642" y="781">com.puppycrawl.tools.checkstyle.checks.indentation.ClassDefHandler</text>
<text x="1662" y="781">com.puppycrawl.tools.checkstyle.checks.indentation.ArrayInitHandler</text>
<text x="1681" y="781">com.puppycrawl.tools.checkstyle.checks.indentation.AnnotationArrayInitHandler</text>
<text x="1700" y="781">com.puppycrawl.tools.checkstyle.checks.indentation.SwitchRuleHandler</text>
<text x="1720" y="781">com.puppycrawl.tools.checkstyle.checks.indentation.YieldHandler</text>
<text x="1739" y="781">com.puppycrawl.tools.checkstyle.checks.indentation.RecordDefHandler</text>
<text x="1759" y="781">com.puppycrawl.tools.checkstyle.checks.indentation.AbstractExpressionHandler</text>
<text x="434" y="918">com.puppycrawl.tools.checkstyle.api.LocalizedMessages</text>
<text x="451" y="918">com.puppycrawl.tools.checkstyle.api.Comment</text>
<text x="468" y="918">com.puppycrawl.tools.checkstyle.api.Filter</text>
<text x="485" y="918">com.puppycrawl.tools.checkstyle.api.Context</text>
<text x="502" y="918">com.puppycrawl.tools.checkstyle.api.Contextualizable</text>
<text x="519" y="918">com.puppycrawl.tools.checkstyle.api.Configurable</text>
<text x="535" y="918">com.puppycrawl.tools.checkstyle.api.FilterSet</text>
<text x="552" y="918">com.puppycrawl.tools.checkstyle.api.AuditListener</text>
<text x="569" y="918">com.puppycrawl.tools.checkstyle.checks.indentation.PrimordialHandler</text>
</g>
</g>
</svg>
